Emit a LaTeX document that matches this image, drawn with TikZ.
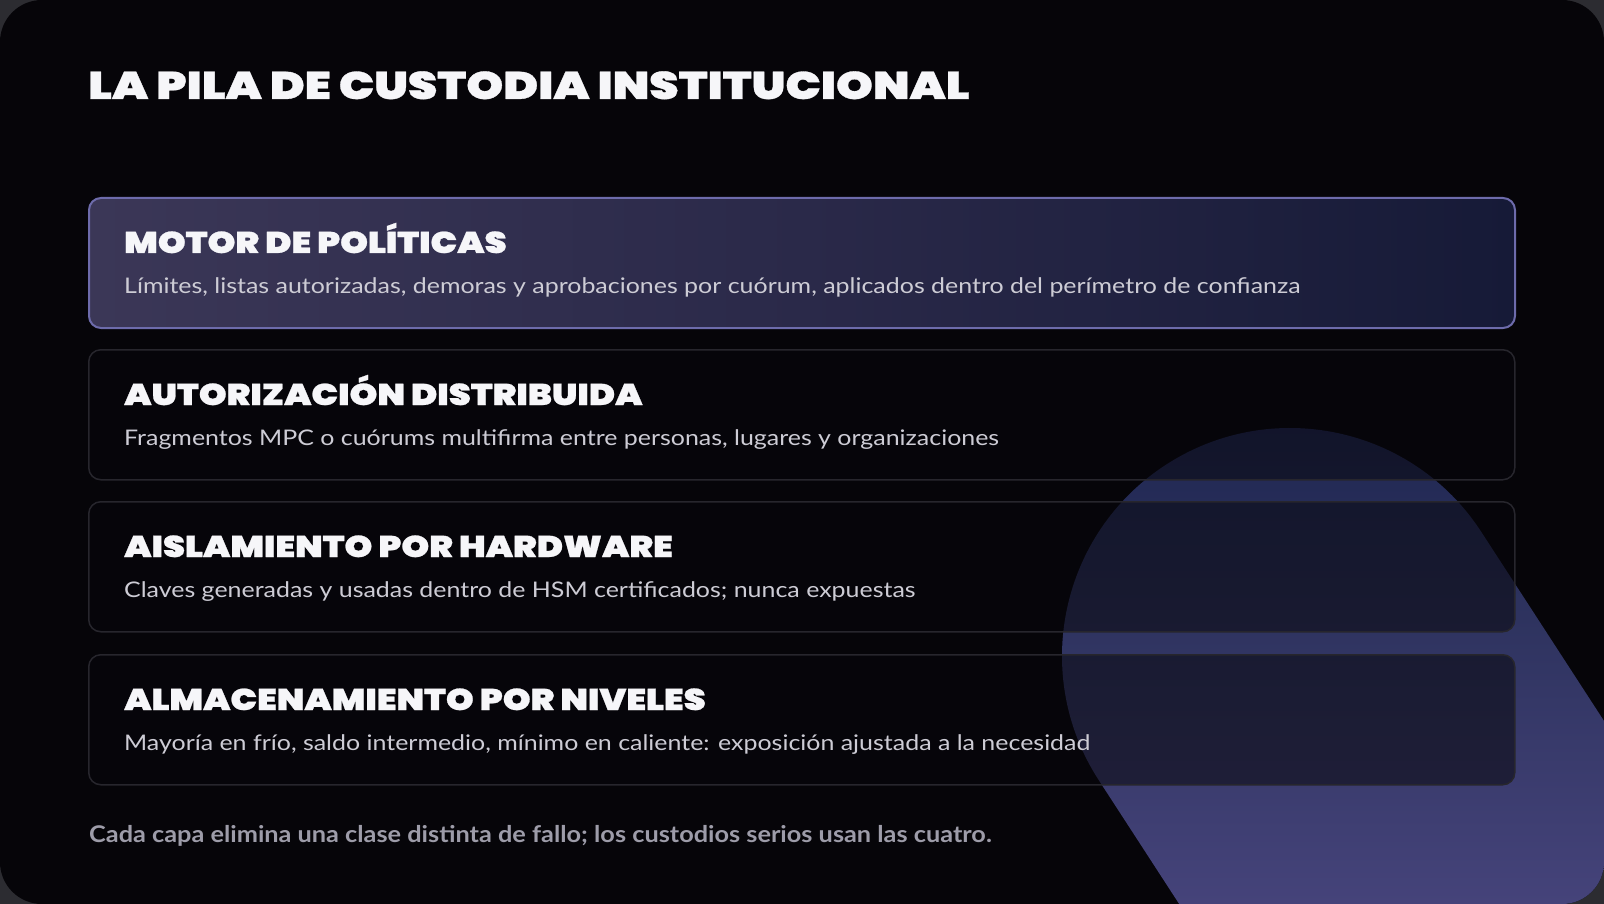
\documentclass[tikz,border=0pt]{standalone}
\usepackage{fontspec}
\setmainfont{Lato}[FakeStretch=1.16]
\newfontfamily\footfont{Lato}[FakeStretch=1.10]
\IfFontExistsTF{Poppins Black}{%
    \newfontfamily\titlefont{Poppins Black}[FakeStretch=1.22, FakeBold=0.8]%
    \newfontfamily\headfont{Poppins Black}[FakeStretch=1.18, FakeBold=0.8]}{%
    \newfontfamily\titlefont{Poppins}[UprightFont=* Bold, FakeStretch=1.22, FakeBold=0.8]%
    \newfontfamily\headfont{Poppins}[UprightFont=* Bold, FakeStretch=1.18, FakeBold=0.8]}
\usetikzlibrary{positioning}

\definecolor{outerbg}{HTML}{2C2C31}
\definecolor{framebg}{HTML}{060509}
\definecolor{boxedge}{HTML}{27262D}
\definecolor{boxfill}{HTML}{07060B}
\definecolor{topedge}{HTML}{6D6BAB}
\definecolor{topleft}{HTML}{3B3757}
\definecolor{topmid}{HTML}{2A2949}
\definecolor{topright}{HTML}{161A37}
\definecolor{headwhite}{HTML}{F6F6F9}
\definecolor{desctext}{HTML}{CDCCD5}
\definecolor{foottext}{HTML}{9D9CA9}
\definecolor{blobA}{HTML}{56538A}
\definecolor{blobB}{HTML}{45437A}
\definecolor{blobC}{HTML}{2E335F}
\definecolor{blobD}{HTML}{1C244F}
\definecolor{blobE}{HTML}{141B3E}

\pgfdeclareverticalshading{blobshade}{100bp}{color(0bp)=(blobA); color(25bp)=(blobB); color(55bp)=(blobC); color(80bp)=(blobD); color(100bp)=(blobE)}

\begin{document}
\begin{tikzpicture}[x=1pt,y=-1pt,
    layerbox/.style={draw=boxedge, line width=1.5pt, rounded corners=12pt,
        fill=boxfill, fill opacity=0.55, minimum width=1426pt,
        minimum height=130pt, inner sep=0pt, anchor=north west},
    toplayer/.style={layerbox, draw=topedge, line width=2pt, fill opacity=1,
        left color=topleft, right color=topright, middle color=topmid},
    titletext/.style={anchor=base west, inner sep=0pt, text=headwhite,
        font=\titlefont\fontsize{38.5}{40}\selectfont},
    layerhead/.style={anchor=base west, inner sep=0pt, text=headwhite,
        font=\headfont\fontsize{30}{32}\selectfont},
    layerdesc/.style={anchor=base west, inner sep=0pt, text=desctext,
        font=\fontsize{21.5}{24}\selectfont},
    footline/.style={anchor=base west, inner sep=0pt, text=foottext,
        font=\footfont\bfseries\fontsize{23}{26}\selectfont}]

    \useasboundingbox (0,0) rectangle (1604,904);
    \fill[outerbg] (0,0) rectangle (1604,904);
    \fill[framebg, rounded corners=42pt] (0,0) rectangle (1604,904);

    % tilted glow behind the stack
    \begin{scope}
        \clip[rounded corners=42pt] (0,0) rectangle (1604,904);
        \clip (1371.1,1199.6) -- (1098.8,780.2) arc[start angle=147, end angle=327, radius=228] -- (1753.5,951.2) -- cycle;
        \shade[shading=blobshade] (1000,426) rectangle (1604,904);
    \end{scope}

    \node[titletext] (title) at (88,99) {LA PILA DE CUSTODIA INSTITUCIONAL};

    % the four layers
    \node[toplayer] (motor) at (88,197) {};
    \node[layerbox] (distr) at (88,349) {};
    \node[layerbox] (hw) at (88,501) {};
    \node[layerbox] (tier) at (88,654) {};

    \node[layerhead] (motorhead) at (124,253) {MOTOR DE POLÍTICAS};
    \node[layerdesc] (motordesc) at (124,293) {Límites, listas autorizadas, demoras y aprobaciones por cuórum, aplicados dentro del perímetro de confianza};

    \node[layerhead] (distrhead) at (124,405) {AUTORIZACIÓN DISTRIBUIDA};
    \node[layerdesc] (distrdesc) at (124,445) {Fragmentos MPC o cuórums multifirma entre personas, lugares y organizaciones};

    \node[layerhead] (hwhead) at (124,557) {AISLAMIENTO POR HARDWARE};
    \node[layerdesc] (hwdesc) at (124,597) {Claves generadas y usadas dentro de HSM certificados; nunca expuestas};

    \node[layerhead] (tierhead) at (124,710) {ALMACENAMIENTO POR NIVELES};
    \node[layerdesc] (tierdesc) at (124,750) {Mayoría en frío, saldo intermedio, mínimo en caliente: exposición ajustada a la necesidad};

    \node[footline] (footnote) at (89,842) {Cada capa elimina una clase distinta de fallo; los custodios serios usan las cuatro.};
\end{tikzpicture}
\end{document}
